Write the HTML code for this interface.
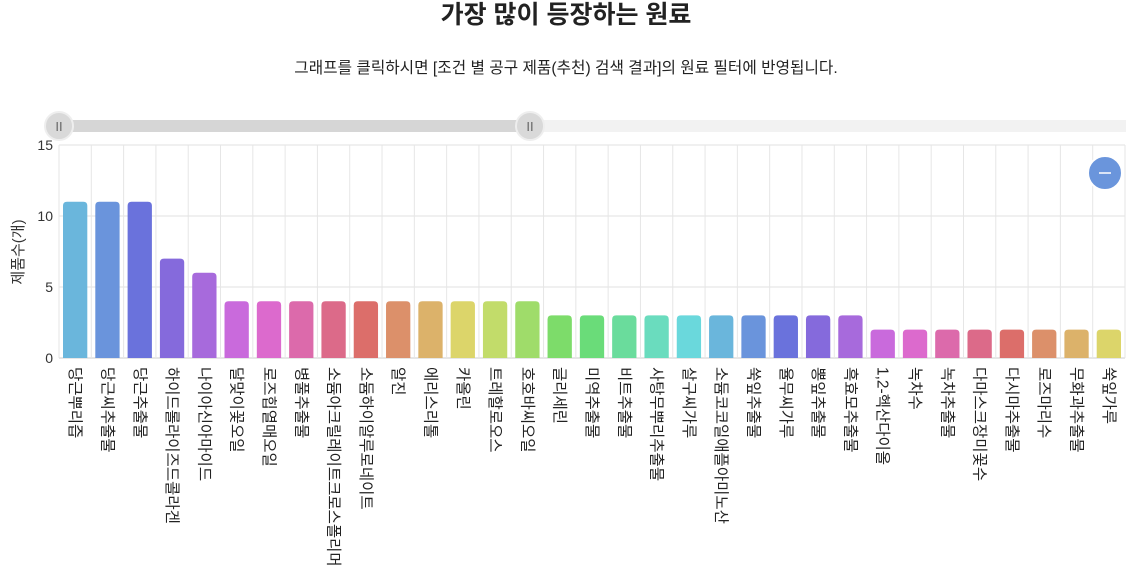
<!DOCTYPE html>
<html><head><meta charset="utf-8">
<style>
body{margin:0;width:1126px;height:576px;background:#fff;overflow:hidden;font-family:"Liberation Sans","Noto Sans CJK KR",sans-serif;}
svg{display:block}
</style></head>
<body>
<svg id="chart" width="1126" height="576">
<text x="566" y="23" text-anchor="middle" font-size="25" font-weight="bold" fill="#222">가장 많이 등장하는 원료</text>
<text x="566" y="73" text-anchor="middle" font-size="15.7" fill="#222">그래프를 클릭하시면 [조건 별 공구 제품(추천) 검색 결과]의 원료 필터에 반영됩니다.</text>
<g>
<rect x="59" y="120" width="1067" height="12" fill="#f2f2f2"/>
<rect x="59" y="120" width="471" height="12" fill="#d6d6d6"/>
<circle cx="59" cy="126" r="14" fill="#d9d9d9" stroke="#eee" stroke-width="2"/>
<text x="59" y="131" text-anchor="middle" font-size="13" fill="#666">II</text>
<circle cx="530" cy="126" r="14" fill="#d9d9d9" stroke="#eee" stroke-width="2"/>
<text x="530" y="131" text-anchor="middle" font-size="13" fill="#666">II</text>
</g>
<g id="grid"></g>
<g id="bars"></g>
<g id="xlabels"></g>
<g id="ylabels"></g>
<text transform="translate(23,252) rotate(-90)" text-anchor="middle" font-size="15" fill="#333">제품수(개)</text>
<g>
<circle cx="1105" cy="173" r="17" fill="#6a95dc" stroke="#fff" stroke-width="2"/>
<line x1="1099" y1="173" x2="1111" y2="173" stroke="#fff" stroke-width="1.5"/>
</g>
</svg>
<script>
const categories=["당근뿌리즙","당근씨추출물","당근추출물","하이드롤라이즈드콜라겐","나이아신아마이드","달맞이꽃오일","로즈힙열매오일","병풀추출물","소듐아크릴레이트크로스폴리머","소듐하이알루로네이트","알진","에리스리톨","카올린","트레할로오스","호호바씨오일","글리세린","미역추출물","비트추출물","사탕무뿌리추출물","살구씨가루","소듐코코일애플아미노산","쑥잎추출물","율무씨가루","뽕잎추출물","흑효모추출물","1,2-헥산다이올","녹차수","녹차추출물","다마스크장미꽃수","다시마추출물","로즈마리수","무화과추출물","쑥잎가루"];
const values=[11,11,11,7,6,4,4,4,4,4,4,4,4,4,4,3,3,3,3,3,3,3,3,3,3,2,2,2,2,2,2,2,2];
const yTicks=[0,5,10,15];
const NS="http://www.w3.org/2000/svg";
const L=59,R=1125,T=145,B=358,yMax=15;
const bw=(R-L)/categories.length;
const xs=i=>L+bw*i;
const ys=v=>B-(B-T)*v/yMax;
const g=document.getElementById('grid'),bg=document.getElementById('bars'),xl=document.getElementById('xlabels'),yl=document.getElementById('ylabels');
function mk(tag,attrs,parent){const e=document.createElementNS(NS,tag);for(const k in attrs)e.setAttribute(k,attrs[k]);parent.appendChild(e);return e;}
yTicks.forEach(t=>{
  const ln=mk('line',{x1:L,x2:R,y1:ys(t),y2:ys(t),stroke:t===0?'#ccc':'#e0e0e0'},g);
  
  
  const tx=mk('text',{x:L-6,y:ys(t)+5,'text-anchor':'end','font-size':14,fill:'#333'},yl);
  tx.textContent=t;
  
  
});
for(let i=0;i<=categories.length;i++){
  const ln=mk('line',{x1:xs(i),x2:xs(i),y1:T,y2:B,stroke:'#e6e6e6'},g);
  
  
}
categories.forEach((c,i)=>{
  const v=values[i];
  const x0=xs(i)+4,w=bw-8,y0=ys(v),r=4;
  const hue=(200+18*i)%360;
  const p=mk('path',{d:`M${x0},${B} V${y0+r} Q${x0},${y0} ${x0+r},${y0} H${x0+w-r} Q${x0+w},${y0} ${x0+w},${y0+r} V${B} Z`,fill:`hsl(${hue},62%,64%)`},bg);
  
  
  const cx=xs(i)+bw/2;
  const t=mk('text',{transform:`translate(${cx-5},${367}) rotate(90)`,'font-size':15.5,fill:'#222'},xl);
  t.textContent=c;
  
  
});
</script>
</body></html>
